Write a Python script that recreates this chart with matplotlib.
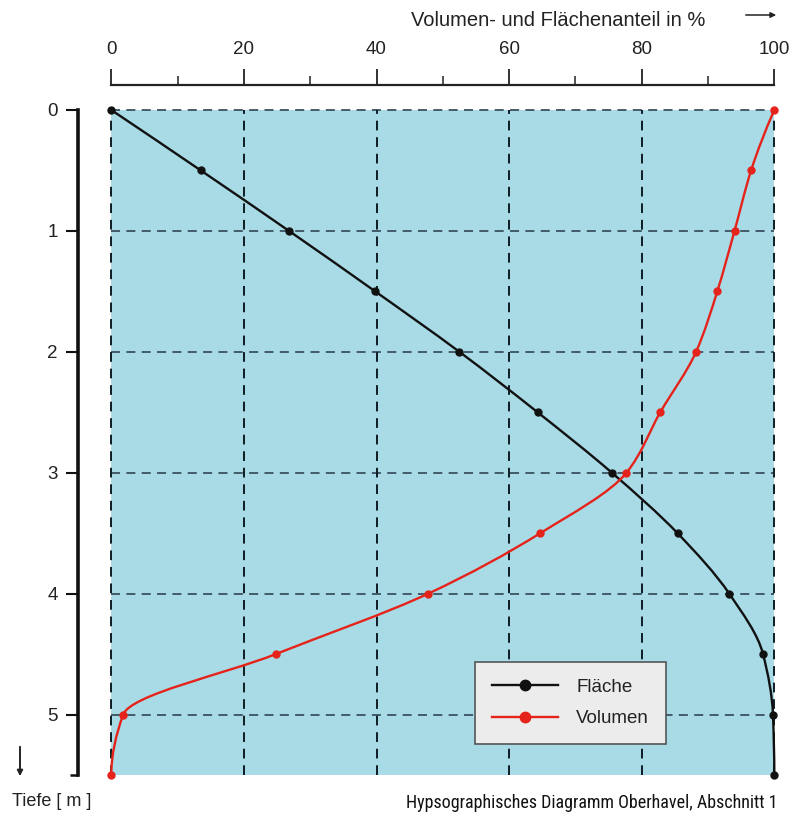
import numpy as np
import matplotlib
matplotlib.use("Agg")
import matplotlib.pyplot as plt
from matplotlib.path import Path
from matplotlib.patches import PathPatch
from matplotlib.lines import Line2D
from matplotlib import font_manager

plt.rcParams['font.family'] = ['Liberation Sans', 'DejaVu Sans']

# depth in m, shares in %
depth = [0, 0.5, 1.0, 1.5, 2.0, 2.5, 3.0, 3.5, 4.0, 4.5, 5.0, 5.5]
flaeche = [0, 13.5, 26.8, 39.8, 52.5, 64.3, 75.5, 85.4, 93.2, 98.3, 99.8, 100]
volumen = [100, 96.5, 94.0, 91.4, 88.2, 82.8, 77.7, 64.7, 47.8, 24.8, 1.8, 0]

pct_ticks = [0, 20, 40, 60, 80, 100]
pct_minor = [10, 30, 50, 70, 90]
depth_ticks = [0, 1, 2, 3, 4, 5]

BLACK = '#111111'
RED = '#e5231b'


def pchip_slopes(y, x):
    """monotone slopes dx/dy (Fritsch-Carlson)"""
    y = np.asarray(y, float)
    x = np.asarray(x, float)
    h = np.diff(y)
    d = np.diff(x) / h
    m = np.zeros_like(x)
    for i in range(1, len(x) - 1):
        if d[i - 1] * d[i] > 0:
            w1 = 2 * h[i] + h[i - 1]
            w2 = h[i] + 2 * h[i - 1]
            m[i] = (w1 + w2) / (w1 / d[i - 1] + w2 / d[i])
    for i, j, k in [(0, 0, 1), (-1, -1, -2)]:
        e = ((2 * h[j] + h[k]) * d[j] - h[j] * d[k]) / (h[j] + h[k])
        if np.sign(e) != np.sign(d[j]):
            e = 0.0
        m[i] = e
    return m


def smooth_path(x, y):
    """x as a monotone cubic of y, drawn as bezier segments."""
    m = pchip_slopes(y, x)
    verts = [(x[0], y[0])]
    codes = [Path.MOVETO]
    for i in range(len(x) - 1):
        h = y[i + 1] - y[i]
        verts += [(x[i] + m[i] * h / 3, y[i] + h / 3),
                  (x[i + 1] - m[i + 1] * h / 3, y[i + 1] - h / 3),
                  (x[i + 1], y[i + 1])]
        codes += [Path.CURVE4] * 3
    return Path(verts, codes)


W, H = 809, 814


def box(l, t, r, b):
    return [l / W, 1 - b / H, (r - l) / W, (b - t) / H]


fig = plt.figure(figsize=(W / 100, H / 100), dpi=100)

# main plot
ax = fig.add_axes(box(111.3, 110, 774.3, 775))
ax.set_facecolor('#a8dbe6')
ax.set_xlim(0, 100)
ax.set_ylim(5.5, 0)
for s in ax.spines.values():
    s.set_visible(False)
ax.set_xticks([])
ax.set_yticks([])

for d in depth_ticks:
    ax.axhline(d, color='#3a525e', lw=1.3, ls=(0, (5, 3.5)), zorder=1, clip_on=False)
for p in pct_ticks:
    ax.axvline(p, color='#0e1c24', lw=1.4, ls=(0, (5, 3.5)), zorder=1, clip_on=False)

ax.add_patch(PathPatch(smooth_path(flaeche, depth), fill=False, edgecolor=BLACK,
                       lw=1.7, zorder=3, clip_on=False))
ax.add_patch(PathPatch(smooth_path(volumen, depth), fill=False, edgecolor=RED,
                       lw=1.7, zorder=3, clip_on=False))
ax.plot(flaeche, depth, 'o', color=BLACK, ms=5, zorder=4, clip_on=False)
ax.plot(volumen, depth, 'o', color=RED, ms=5, zorder=4, clip_on=False)

handles = [Line2D([], [], color=BLACK, lw=1.7, marker='o', ms=7.5),
           Line2D([], [], color=RED, lw=1.7, marker='o', ms=7.5)]
leg = ax.legend(handles, ['Fläche', 'Volumen'], loc='upper left',
                bbox_to_anchor=(475 / W, 1 - 662 / H), bbox_transform=fig.transFigure,
                fancybox=False, facecolor='#ececec', edgecolor='#555555', framealpha=1,
                fontsize=13.5, handlelength=3.5, handletextpad=1.0, borderpad=0.9,
                labelspacing=0.75, borderaxespad=0)
leg.get_frame().set_linewidth(1.2)
leg.set_zorder(5)
for t in leg.get_texts():
    t.set_color('#222222')

# top scale
axt = fig.add_axes(box(111.3, 62, 774.3, 85))
axt.patch.set_visible(False)
axt.set_xlim(0, 100)
for k, s in axt.spines.items():
    s.set_visible(k == 'bottom')
axt.spines['bottom'].set_linewidth(1.6)
axt.spines['bottom'].set_color('#222222')
axt.set_xticks(pct_ticks)
axt.set_xticks(pct_minor, minor=True)
axt.set_xticklabels([str(v) for v in pct_ticks])
axt.set_yticks([])
axt.tick_params(axis='x', which='both', direction='in', top=False, bottom=True,
                labelbottom=False, labeltop=True, color='#222222')
axt.tick_params(axis='x', which='major', length=11.5, width=1.3, labelsize=13.5, pad=3,
                labelcolor='#222222')
axt.tick_params(axis='x', which='minor', length=6.5, width=1.1)

# left depth scale
axl = fig.add_axes(box(78, 110, 79, 775))
axl.patch.set_visible(False)
axl.set_ylim(5.5, 0)
for k, s in axl.spines.items():
    s.set_visible(k == 'left')
axl.spines['left'].set_linewidth(2.6)
axl.spines['left'].set_color('#111111')
axl.set_xticks([])
axl.set_yticks(depth_ticks)
axl.set_yticks([5.5], minor=True)
axl.set_yticklabels([str(v) for v in depth_ticks])
axl.tick_params(axis='y', which='major', direction='out', length=8.5, width=1.5,
                labelsize=13.5, pad=6, color='#111111', labelcolor='#222222')
axl.tick_params(axis='y', which='minor', direction='out', length=6, width=1.8,
                color='#111111')

# annotations
fig.text(558 / W, 1 - 21 / H, 'Volumen- und Flächenanteil in %', ha='center',
         va='center', fontsize=14.5, color='#222222')
ax.annotate('', xy=(779 / W, 1 - 15 / H), xytext=(743 / W, 1 - 15 / H),
            xycoords='figure fraction', textcoords='figure fraction',
            arrowprops=dict(arrowstyle='-|>', lw=1.1, color='#222222', mutation_scale=8))
ax.annotate('', xy=(20 / W, 1 - 779 / H), xytext=(20 / W, 1 - 744 / H),
            xycoords='figure fraction', textcoords='figure fraction',
            arrowprops=dict(arrowstyle='-|>', lw=1.4, color='#222222', mutation_scale=8))
fig.text(12 / W, 1 - 801 / H, 'Tiefe [ m ]', ha='left', va='center', fontsize=13,
         color='#222222')

title_fam = [f for f in ['Liberation Sans Narrow', 'Roboto Condensed', 'Roboto']
             if any(e.name == f for e in font_manager.fontManager.ttflist)]
fig.text(778 / W, 1 - 803 / H, 'Hypsographisches Diagramm Oberhavel, Abschnitt 1',
         ha='right', va='center', fontsize=13, color='#111111',
         family=title_fam[:1] + ['DejaVu Sans'])

fig.savefig('out.png', dpi=100)
